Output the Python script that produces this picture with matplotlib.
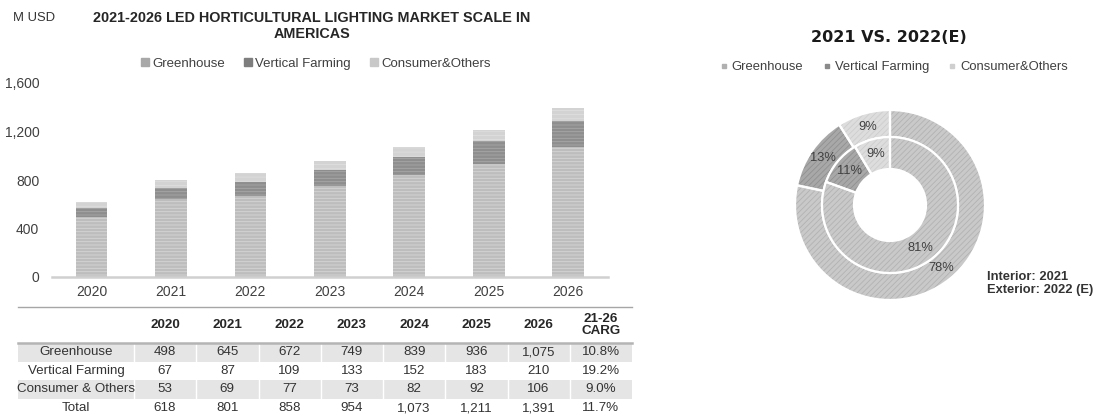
import matplotlib.pyplot as plt
from matplotlib.lines import Line2D
from matplotlib.patches import Rectangle

plt.rcParams['font.family'] = ['Liberation Sans', 'DejaVu Sans']
plt.rcParams['hatch.linewidth'] = 0.6

years = ['2020', '2021', '2022', '2023', '2024', '2025', '2026']
greenhouse = [498, 645, 672, 749, 839, 936, 1075]
vertical_farming = [67, 87, 109, 133, 152, 183, 210]
consumer_others = [53, 69, 77, 73, 82, 92, 106]
totals = [618, 801, 858, 954, 1073, 1211, 1391]
cagr = ['10.8%', '19.2%', '9.0%', '11.7%']
series_names = ['Greenhouse', 'Vertical Farming', 'Consumer&Others']
row_names = ['Greenhouse', 'Vertical Farming', 'Consumer & Others', 'Total']
yticks = [0, 400, 800, 1200, 1600]

W, H = 1099, 416
fig = plt.figure(figsize=(W / 100, H / 100), dpi=100)

def fx(px):
    return px / W

def fy(py):
    return 1 - py / H

# ---- stacked bar chart ----
ax = fig.add_axes([fx(51.75), fy(277), fx(608 - 51.75), (277 - 83) / H])
x = list(range(len(years)))
bw = 0.4
ax.bar(x, greenhouse, bw, color='#bdbdbd', edgecolor='#d6d6d6', hatch='-----', linewidth=0)
ax.bar(x, vertical_farming, bw, bottom=greenhouse, color='#8e8e8e', edgecolor='#a8a8a8',
       hatch='-----', linewidth=0)
bottom2 = [g + v for g, v in zip(greenhouse, vertical_farming)]
ax.bar(x, consumer_others, bw, bottom=bottom2, color='#d3d3d3', edgecolor='#dedede',
       hatch='----', linewidth=0)
ax.set_xlim(-0.5, len(years) - 0.5)
ax.set_ylim(0, 1600)
ax.set_xticks(x)
ax.set_xticklabels(years)
ax.set_yticks(yticks)
ax.set_yticklabels([f'{v:,}' for v in yticks])
for s in ['top', 'right', 'left']:
    ax.spines[s].set_visible(False)
ax.spines['bottom'].set_color('#d0d0d0')
ax.spines['bottom'].set_linewidth(1.8)
ax.tick_params(axis='both', length=0, labelsize=10, colors='#404040')
ax.tick_params(axis='y', pad=9)
ax.tick_params(axis='x', pad=6)

bar_handles = [Line2D([], [], marker='s', ls='', markersize=6, color=c)
               for c in ['#a8a8a8', '#7e7e7e', '#c8c8c8']]
fig.legend(bar_handles, series_names, loc='center', bbox_to_anchor=(fx(315), fy(64)),
           ncol=3, frameon=False, handletextpad=0.1, columnspacing=1.3,
           handlelength=0.9, fontsize=9.5, labelcolor='#404040')

# ---- overlay axes in pixel coordinates for titles and table ----
tax = fig.add_axes([0, 0, 1, 1])
tax.set_xlim(0, W)
tax.set_ylim(H, 0)
tax.axis('off')

tax.text(13, 18, 'M USD', fontsize=9.4, color='#333333', va='center', ha='left')
tax.text(312, 26, '2021-2026 LED HORTICULTURAL LIGHTING MARKET SCALE IN\nAMERICAS',
         fontsize=10.4, fontweight='bold', color='#262626', ha='center', va='center',
         linespacing=1.12)

# table
left, lab_w, col_w = 18, 116, 62.25
ncol = len(years) + 1
right = left + lab_w + ncol * col_w
row_top = [343, 362, 380, 399]
row_h = 18.6
centers = [left + lab_w + col_w * (i + 0.5) for i in range(ncol)]

for r in [0, 2]:
    tax.add_patch(Rectangle((left, row_top[r]), right - left, row_h, color='#e5e5e5', lw=0))
    for cx in [left + lab_w + col_w * i for i in range(ncol)]:
        tax.plot([cx, cx], [row_top[r], row_top[r] + row_h], color='white', lw=1)
tax.plot([left, right], [307, 307], color='#a6a6a6', lw=1)
tax.plot([left, right], [343, 343], color='#b4b4b4', lw=1.8)

for i, yr in enumerate(years):
    tax.text(centers[i], 325, yr, ha='center', va='center', fontsize=9.6,
             fontweight='bold', color='#262626')
tax.text(centers[-1], 325, '21-26\nCARG', ha='center', va='center', fontsize=9.6,
         fontweight='bold', color='#262626', linespacing=1.05)

rows = [greenhouse, vertical_farming, consumer_others, totals]
for r, vals in enumerate(rows):
    cy = row_top[r] + row_h / 2
    tax.text(left + lab_w / 2, cy, row_names[r], ha='center', va='center',
             fontsize=9.6, color='#333333')
    for i, v in enumerate(vals):
        tax.text(centers[i], cy, f'{v:,}', ha='center', va='center',
                 fontsize=9.6, color='#333333')
    tax.text(centers[-1], cy, cagr[r], ha='center', va='center',
             fontsize=9.6, color='#333333')

# ---- donut chart ----
tax.text(889, 37, '2021 VS. 2022(E)', ha='center', va='center', fontsize=11.5,
         fontweight='bold', color='#1a1a1a', family='DejaVu Sans')

donut_handles = [Line2D([], [], marker='s', ls='', markersize=3.5, color=c)
                 for c in ['#b0b0b0', '#8a8a8a', '#cfcfcf']]
fig.legend(donut_handles, series_names, loc='center', bbox_to_anchor=(fx(894), fy(67)),
           ncol=3, frameon=False, handletextpad=0.3, columnspacing=1.5,
           handlelength=0.6, fontsize=9.4, labelcolor='#404040')

tax.text(987, 277, 'Interior: 2021', ha='left', va='center', fontsize=9.3,
         fontweight='bold', color='#333333')
tax.text(987, 290, 'Exterior: 2022 (E)', ha='left', va='center', fontsize=9.3,
         fontweight='bold', color='#333333')

inner = [greenhouse[1], vertical_farming[1], consumer_others[1]]
outer = [greenhouse[2], vertical_farming[2], consumer_others[2]]
donut_colors = ['#c9c9c9', '#a8a8a8', '#dddddd']
hatch_colors = ['#b2b2b2', '#909090', '#cdcdcd']

R = 95.0
dax = fig.add_axes([fx(890 - 100), fy(205 + 100), 200 / W, 200 / H])
r_out, r_mid, r_in = 1.0, 68 / R, 36 / R

for vals, rad, wid, pd in [(outer, r_out, r_out - r_mid, 0.86),
                           (inner, r_mid, r_mid - r_in, 0.78)]:
    wedges, texts, autotexts = dax.pie(
        vals, radius=rad, startangle=90, counterclock=False,
        colors=donut_colors, autopct='%1.0f%%', pctdistance=pd,
        wedgeprops=dict(width=wid, linewidth=0),
        textprops=dict(fontsize=9.3, color='#404040'))
    for w, hc in zip(wedges, hatch_colors):
        w.set_hatch('//////')
        w.set_edgecolor(hc)
    for t in autotexts:
        t.set_zorder(5)
    dax.pie(vals, radius=rad, startangle=90, counterclock=False,
            wedgeprops=dict(width=wid, linewidth=1.6, edgecolor='white', fill=False))

lim = 100 / R
dax.set_xlim(-lim, lim)
dax.set_ylim(-lim, lim)
dax.set_aspect('equal')

fig.savefig('out.png', dpi=100)
